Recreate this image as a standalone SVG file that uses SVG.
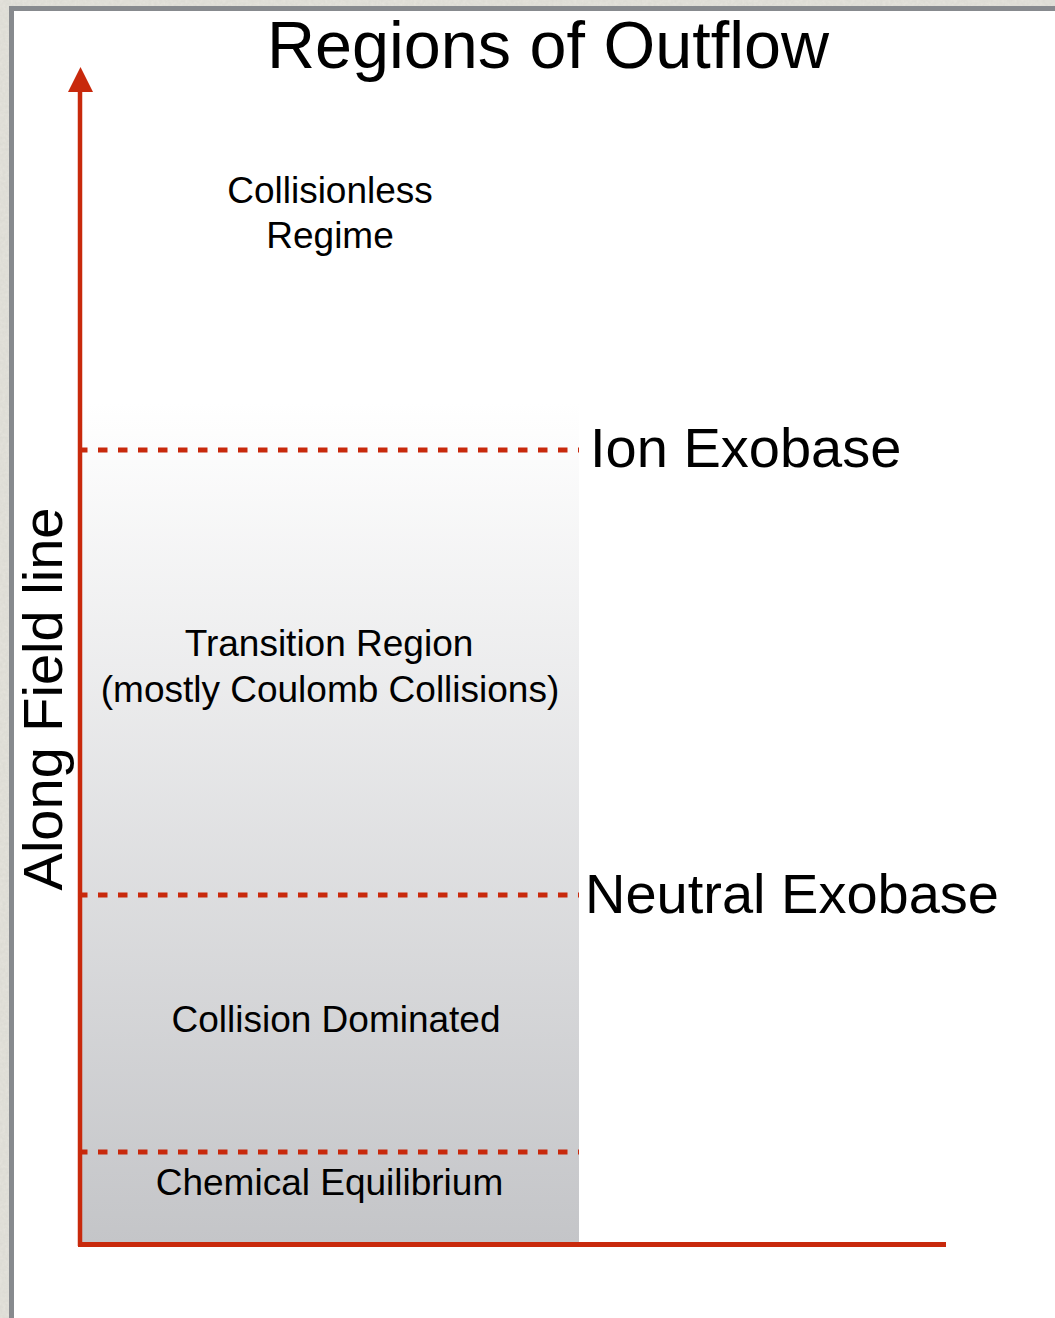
<svg xmlns="http://www.w3.org/2000/svg" width="1055" height="1318" viewBox="0 0 1055 1318">
  <defs>
    <linearGradient id="regionFill" x1="0" y1="0" x2="0" y2="1">
      <stop offset="0" stop-color="#ffffff"/>
      <stop offset="1" stop-color="#c4c5c8"/>
    </linearGradient>
    <filter id="grain" x="0" y="0" width="1" height="1">
      <feTurbulence type="fractalNoise" baseFrequency="0.35" numOctaves="2" seed="4" result="n"/>
      <feColorMatrix in="n" type="matrix" values="0 0 0 0 0.55  0 0 0 0 0.54  0 0 0 0 0.5  0 0 0 0.35 0" result="g"/>
      <feComposite in="g" in2="SourceGraphic" operator="in" result="gc"/>
      <feMerge><feMergeNode in="SourceGraphic"/><feMergeNode in="gc"/></feMerge>
    </filter>
  </defs>
  <style>
    .lbl { font-family: "Liberation Sans", Arial, Helvetica, sans-serif; fill: #000000; }
    .mid { font-size: 37px; text-anchor: middle; }
    .big { font-size: 56px; }
    .axis { stroke: #c8290c; fill: none; }
    .level { stroke: #c8290c; stroke-width: 5; stroke-dasharray: 9.5 10.5; fill: none; }
  </style>

  <!-- page backdrop and frame -->
  <rect x="0" y="0" width="1055" height="1318" fill="#e5e4dd" filter="url(#grain)"/>
  <rect x="9" y="6" width="1046" height="1312" fill="#878a8e"/>
  <rect x="14" y="11" width="1041" height="1307" fill="#ffffff"/>

  <!-- title -->
  <text class="lbl" x="548" y="68" font-size="66.5" text-anchor="middle">Regions of Outflow</text>

  <!-- shaded region below the ion exobase -->
  <g id="region-band">
    <rect x="82" y="403" width="497" height="840" fill="url(#regionFill)"/>
  </g>

  <!-- boundary levels -->
  <g id="levels">
    <line id="ion-exobase-line" class="level" x1="78" y1="450" x2="579" y2="450"/>
    <line id="neutral-exobase-line" class="level" x1="78" y1="895" x2="579" y2="895"/>
    <line id="chem-eq-line" class="level" x1="78" y1="1152" x2="579" y2="1152"/>
  </g>

  <!-- axes -->
  <g id="axes">
    <line class="axis" x1="80" y1="1246" x2="80" y2="88" stroke-width="4.5"/>
    <polygon points="68,92 80.5,67 93,92" fill="#c8290c"/>
    <line class="axis" x1="78" y1="1244.5" x2="946" y2="1244.5" stroke-width="5"/>
  </g>

  <!-- region labels -->
  <g id="collisionless">
    <text class="lbl mid" x="330" y="203">Collisionless</text>
    <text class="lbl mid" x="330" y="248">Regime</text>
  </g>
  <g id="transition">
    <text class="lbl mid" x="329" y="656">Transition Region</text>
    <text class="lbl mid" x="330" y="702">(mostly Coulomb Collisions)</text>
  </g>
  <g id="collision-dominated">
    <text class="lbl mid" x="336" y="1032">Collision Dominated</text>
  </g>
  <g id="chemical-equilibrium">
    <text class="lbl mid" x="329.5" y="1195">Chemical Equilibrium</text>
  </g>

  <!-- level names -->
  <g id="ion-exobase">
    <text class="lbl big" x="590" y="467">Ion Exobase</text>
  </g>
  <g id="neutral-exobase">
    <text class="lbl big" x="585" y="913">Neutral Exobase</text>
  </g>

  <!-- axis label -->
  <g id="axis-label">
    <text class="lbl big" x="0" y="0" text-anchor="middle" transform="translate(62,699) rotate(-90)">Along Field line</text>
  </g>
</svg>
